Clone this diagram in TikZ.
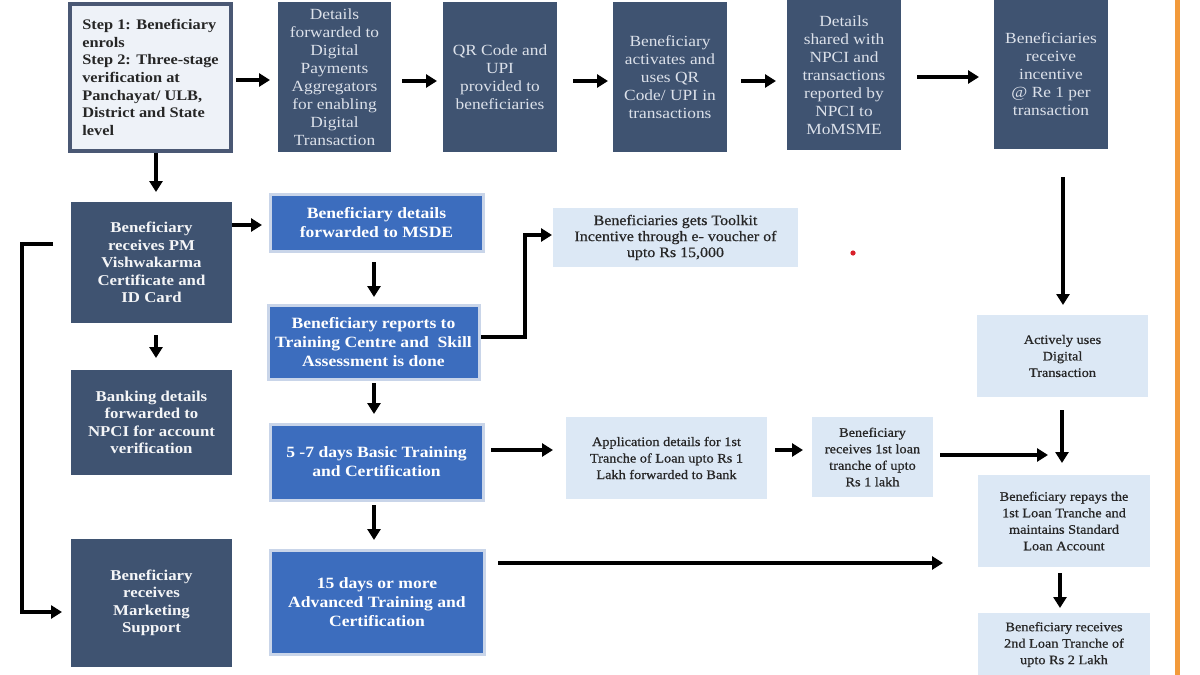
\documentclass[tikz,border=0pt]{standalone}
\usepackage{fontspec}
\setmainfont[FakeStretch=1.12]{Liberation Serif}
\newfontfamily\lightfont[FakeStretch=1.1,FakeBold=0.7]{Liberation Serif}
\usetikzlibrary{arrows.meta,calc}
\definecolor{slate}{HTML}{3F5371}
\definecolor{bblue}{HTML}{3C6DBE}
\definecolor{bedge}{HTML}{C9D5E9}
\definecolor{lblue}{HTML}{DCE8F5}
\definecolor{stepfill}{HTML}{EEF2F8}
\definecolor{stepedge}{HTML}{4A5874}
\definecolor{toptext}{HTML}{DCE1EA}
\definecolor{orangeline}{HTML}{F29A3B}
\definecolor{darktext}{HTML}{262626}
\definecolor{reddot}{HTML}{D8202A}
\newcommand{\fsz}[2]{\fontsize{#1}{#2}\selectfont}
\begin{document}
\begin{tikzpicture}[x=1pt,y=-1pt,
  every node/.style={outer sep=0pt, inner sep=2pt},
  topbox/.style={fill=slate, text=toptext, align=center, font=\fsz{15.5}{18}},
  sidebox/.style={fill=slate, text=white!94!slate, align=center, font=\bfseries\fsz{15}{17.5}},
  bluebox/.style={fill=bblue, draw=bedge, line width=3pt, text=white, align=center, font=\bfseries\fsz{15.7}{19}},
  lightbox/.style={fill=lblue, text=darktext, align=center, font=\lightfont\fsz{13}{16.5}},
  stepbox/.style={fill=stepfill, draw=stepedge, line width=4.5pt, text=darktext, align=left, font=\bfseries\fsz{14.6}{17.6}},
  arr/.style={line width=3.2pt, -{Triangle[length=11pt,width=13pt]}},
]
\useasboundingbox (0,0) rectangle (1200,675);
\fill[white] (0,0) rectangle (1200,675);

% orange border line
\draw[orangeline, line width=5pt] (1177,0) -- (1177,675);

% top row
\node[stepbox, minimum width=161, minimum height=147] (s1) at (150.5,77.5)
  {Step 1: Beneficiary\\enrols\\Step 2: Three-stage\\verification at\\Panchayat/ ULB,\\District and State\\level};
\node[topbox, minimum width=113, minimum height=150] (b2) at (334.5,77)
  {Details\\forwarded to\\Digital\\Payments\\Aggregators\\for enabling\\Digital\\Transaction};
\node[topbox, minimum width=114, minimum height=150] (b3) at (500,77)
  {QR Code and\\UPI\\provided to\\beneficiaries};
\node[topbox, minimum width=114, minimum height=150] (b4) at (670,77)
  {Beneficiary\\activates and\\uses QR\\Code/ UPI in\\transactions};
\node[topbox, minimum width=114, minimum height=150] (b5) at (844,75)
  {Details\\shared with\\NPCI and\\transactions\\reported by\\NPCI to\\MoMSME};
\node[topbox, minimum width=114, minimum height=149] (b6) at (1051,74.5)
  {Beneficiaries\\receive\\incentive\\@ Re 1 per\\transaction};

% left column
\node[sidebox, minimum width=161, minimum height=121] (pm) at (151.5,262.5)
  {Beneficiary\\receives PM\\Vishwakarma\\Certificate and\\ID Card};
\node[sidebox, minimum width=161, minimum height=105] (bank) at (151.5,422.5)
  {Banking details\\forwarded to\\NPCI for account\\verification};
\node[sidebox, minimum width=161, minimum height=128] (mkt) at (151.5,603)
  {Beneficiary\\receives\\Marketing\\Support};

% blue column
\node[bluebox, minimum width=213, minimum height=57] (msde) at (376.5,222.5)
  {Beneficiary details\\forwarded to MSDE};
\node[bluebox, minimum width=211, minimum height=74] (rep) at (373.5,342)
  {Beneficiary reports to\\Training Centre and\ \ Skill\\Assessment is done};
\node[bluebox, minimum width=213, minimum height=76] (basic) at (376.5,462)
  {5 -7 days Basic Training\\and Certification};
\node[bluebox, minimum width=214, minimum height=104] (adv) at (377,602)
  {15 days or more\\Advanced Training and\\Certification};

% light boxes
\node[lightbox, font=\lightfont\fsz{14.5}{16}, minimum width=245, minimum height=59] (tool) at (675.5,237.5)
  {Beneficiaries gets Toolkit\\Incentive through e- voucher of\\upto Rs 15,000};
\node[lightbox, minimum width=171, minimum height=82] (act) at (1062.5,356)
  {Actively uses\\Digital\\Transaction};
\node[lightbox, minimum width=201, minimum height=82] (app) at (666.5,458)
  {Application details for 1st\\Tranche of Loan upto Rs 1\\Lakh forwarded to Bank};
\node[lightbox, minimum width=121, minimum height=80] (loan) at (872.5,457)
  {Beneficiary\\receives 1st loan\\tranche of upto\\Rs 1 lakh};
\node[lightbox, minimum width=172, minimum height=92] (repay) at (1064,521)
  {Beneficiary repays the\\1st Loan Tranche and\\maintains Standard\\Loan Account};
\node[lightbox, minimum width=172, minimum height=63] (second) at (1064,644.5)
  {Beneficiary receives\\2nd Loan Tranche of\\upto Rs 2 Lakh};

% stray red dot
\fill[reddot] (853,253) circle (2.6pt);

% top row arrows
\draw[arr] ($(s1.east)+(5,2.5)$) -- ($(b2.west)+(-8,3)$);
\draw[arr] ($(b2.east)+(11,4)$) -- ($(b3.west)+(-6,4)$);
\draw[arr] ($(b3.east)+(16,4)$) -- ($(b4.west)+(-5,4)$);
\draw[arr] ($(b4.east)+(14,4)$) -- ($(b5.west)+(-11,6)$);
\draw[arr] ($(b5.east)+(16,2)$) -- ($(b6.west)+(-15,2.5)$);

% right column
\draw[arr] ($(b6.south)+(12,28)$) -- ($(act.north)+(0.5,-10)$);
\draw[arr] ($(act.south)+(-0.5,13)$) -- ($(repay.north)+(-2,-12)$);
\draw[arr] ($(loan.east)+(7,-2)$) -- ($(repay.north west)+(70,-20)$);
\draw[arr] ($(adv.east)+(14,-39)$) -- ($(repay.west)+(-35,42)$);
\draw[arr] ($(repay.south)+(-4,6)$) -- ($(second.north)+(-4,-5)$);

% left column arrows
\draw[arr] ($(s1.south)+(5.5,2)$) -- ($(pm.north)+(4.5,-10)$);
\draw[arr] ($(pm.east)+(0,-37.5)$) -- ($(msde.west)+(-8,2.5)$);
\draw[arr] ($(pm.south)+(4.5,12)$) -- ($(bank.north)+(4.5,-12)$);
\draw[arr] ($(pm.west)+(-18,-18.5)$) -- ++(-31,0) |- ($(mkt.west)+(-9,9)$);

% blue column arrows
\draw[arr] ($(msde.south)+(-2.5,11)$) -- ($(rep.north)+(0.5,-8)$);
\draw[arr] ($(rep.south)+(0.5,4)$) -- ($(basic.north)+(-2.5,-10)$);
\draw[arr] ($(basic.south)+(-2.5,5)$) -- ($(adv.north)+(-3,-10)$);
\draw[arr] ($(rep.east)+(2,-5)$) -- ++(44,0) |- ($(tool.west)+(-1,-2.5)$);
\draw[arr] ($(basic.east)+(8,-12)$) -- ($(app.west)+(-13,-8)$);
\draw[arr] ($(app.east)+(8,-8)$) -- ($(loan.west)+(-9,-7)$);
\end{tikzpicture}
\end{document}
